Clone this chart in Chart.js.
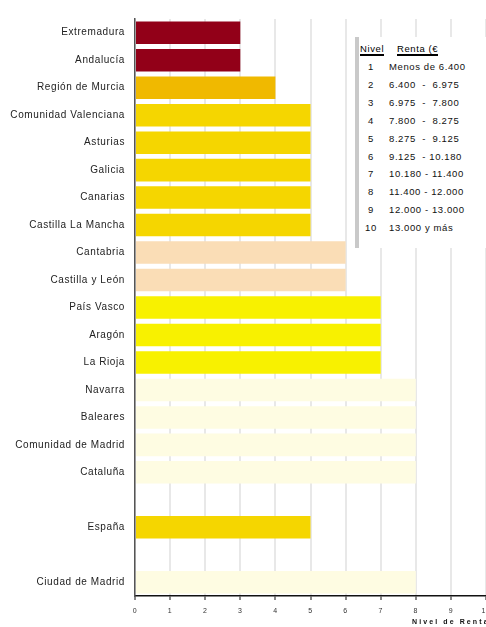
<!DOCTYPE html>
<html>
<head>
<meta charset="utf-8">
<script src="https://cdn.jsdelivr.net/npm/chart.js@4/dist/chart.umd.min.js"></script>
<style>
  html, body { margin: 0; padding: 0; background: #fff; overflow: hidden; }
  #wrap { position: relative; width: 486px; height: 627px; }
  #legendBox {
    position: absolute; left: 355px; top: 37px; width: 127px; height: 211px;
    background: #fff; border-left: 4px solid #c9c9c9;
    font-family: "Liberation Sans", Arial, sans-serif; font-size: 9.5px; color: #111;
    letter-spacing: 0.6px;
  }
  #legendBox .hdr { position: absolute; top: 6px; left: 0; height: 16px; width: 127px; }
  #legendBox .hdr span {
    position: absolute; top: 0; height: 16px; line-height: 12px;
    text-decoration: underline; text-decoration-thickness: 2px; text-underline-offset: 2px;
    white-space: nowrap; overflow: hidden; color: #000;
  }
  #legendBox .row { position: absolute; left: 0; width: 127px; height: 14px; line-height: 14px; white-space: nowrap; }
  #legendBox .row .n { position: absolute; left: 1px; width: 22px; text-align: center; }
  #legendBox .row .t { position: absolute; left: 30px; }
  #axisTitle {
    position: absolute; left: 412px; top: 618px; white-space: nowrap;
    font-family: "Liberation Sans", Arial, sans-serif; font-size: 7px; font-weight: bold;
    letter-spacing: 2.1px; color: #111;
  }
</style>
</head>
<body>
<div id="wrap">
  <canvas id="chart" width="486" height="627"></canvas>
  <div id="legendBox"></div>
  <div id="axisTitle">Nivel de Renta</div>
</div>
<script>
// Comunidades autónomas, ordenadas como en el gráfico ('' = hueco)
const categories = [
  'Extremadura', 'Andalucía', 'Región de Murcia', 'Comunidad Valenciana',
  'Asturias', 'Galicia', 'Canarias', 'Castilla La Mancha', 'Cantabria',
  'Castilla y León', 'País Vasco', 'Aragón', 'La Rioja', 'Navarra',
  'Baleares', 'Comunidad de Madrid', 'Cataluña', '', 'España', '',
  'Ciudad de Madrid'
];
const nivel = [3, 3, 4, 5, 5, 5, 5, 5, 6, 6, 7, 7, 7, 8, 8, 8, 8, null, 5, null, 8];

const xTicks = [0, 1, 2, 3, 4, 5, 6, 7, 8, 9, 10];

const legendNivel = ['1', '2', '3', '4', '5', '6', '7', '8', '9', '10'];
const legendRenta = [
  'Menos de 6.400', '6.400  -  6.975', '6.975  -  7.800', '7.800  -  8.275',
  '8.275  -  9.125', '9.125  - 10.180', '10.180 - 11.400', '11.400 - 12.000',
  '12.000 - 13.000', '13.000 y más'
];

// color por nivel
const levelColors = {
  3: '#920018',
  4: '#F0B900',
  5: '#F5D600',
  6: '#FADDB6',
  7: '#F8F100',
  8: '#FEFCE2'
};

// tabla de niveles
const box = document.getElementById('legendBox');
let html = '<div class="hdr"><span style="left:1px">Nivel</span><span style="left:38px;width:41px">Renta (€)</span></div>';
legendNivel.forEach((n, i) => {
  const top = 23 + i * 17.9;
  html += '<div class="row" style="top:' + top + 'px"><span class="n">' + n + '</span><span class="t">' +
    legendRenta[i].replace(/ {2}/g, ' &nbsp;') + '</span></div>';
});
box.innerHTML = html;

const spacing = {
  id: 'spacing',
  beforeDraw(chart) { chart.ctx.letterSpacing = '0.6px'; },
  afterDraw(chart) { chart.ctx.letterSpacing = '0px'; }
};

const ctx = document.getElementById('chart').getContext('2d');
new Chart(ctx, {
  type: 'bar',
  data: {
    labels: categories,
    datasets: [{
      data: nivel,
      backgroundColor: nivel.map(v => levelColors[v] || 'transparent'),
      borderWidth: 0,
      barPercentage: 0.82,
      categoryPercentage: 1
    }]
  },
  options: {
    indexAxis: 'y',
    responsive: false,
    animation: false,
    layout: { padding: { top: 19, left: 0, right: 0, bottom: 0 } },
    plugins: { legend: { display: false }, tooltip: { enabled: false } },
    scales: {
      x: {
        min: 0,
        max: 10,
        afterBuildTicks: s => { s.ticks = xTicks.map(v => ({ value: v })); },
        afterFit: s => { s.height = 31; s.paddingLeft = 0; s.paddingRight = 0; },
        grid: { color: '#e8e8e8', lineWidth: 2, tickLength: 4, tickColor: '#888', drawTicks: true },
        border: { color: '#111', width: 1.5 },
        ticks: {
          padding: 7,
          color: '#333',
          font: { family: 'Liberation Sans, Arial, sans-serif', size: 7 }
        }
      },
      y: {
        afterFit: s => { s.width = 135; },
        grid: { display: false, drawTicks: false },
        border: { color: '#555', width: 1.5 },
        ticks: {
          padding: 10,
          color: '#222',
          font: { family: 'Liberation Sans, Arial, sans-serif', size: 10 }
        }
      }
    }
  },
  plugins: [spacing]
});
</script>
</body>
</html>
